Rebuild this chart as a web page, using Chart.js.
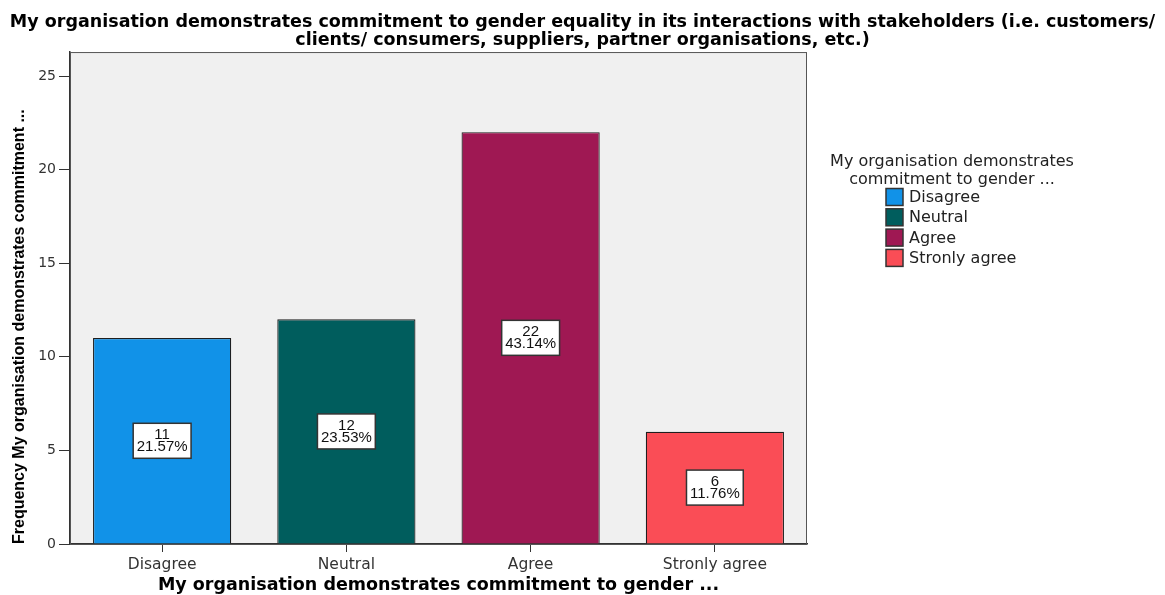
<!DOCTYPE html>
<html>
<head>
<meta charset="utf-8">
<script src="https://cdn.jsdelivr.net/npm/chart.js@4.4.0/dist/chart.umd.min.js"></script>
<style>
    html, body { margin: 0; padding: 0; background: #fff; }
    #wrap { width: 1165px; height: 595px; }
</style>
</head>
<body>
<div id="wrap"><canvas id="freqChart" width="1165" height="595"></canvas></div>
<script>
// Values
const categories = ['Disagree', 'Neutral', 'Agree', 'Stronly agree'];
const frequencies = [11, 12, 22, 6];
const percentLabels = ['21.57%', '23.53%', '43.14%', '11.76%'];
const barColors = ['#1192e8', '#005d5d', '#9f1853', '#fa4d56'];
const yTicks = [0, 5, 10, 15, 20, 25];

const chartTitle = [
    'My organisation demonstrates commitment to gender equality in its interactions with stakeholders (i.e. customers/',
    'clients/ consumers, suppliers, partner organisations, etc.)'
];
const xAxisTitle = 'My organisation demonstrates commitment to gender ...';
const yAxisTitle = 'Frequency My organisation demonstrates commitment ...';
const legendTitle = ['My organisation demonstrates', 'commitment to gender ...'];

const REG = '"DejaVu Sans", "Liberation Sans", Arial, sans-serif';
const ARIAL = '"Liberation Sans", Arial, sans-serif';

// grey plot panel behind the bars
const panelPlugin = {
    id: 'panel',
    beforeDraw(chart) {
        const { ctx, chartArea: a } = chart;
        ctx.save();
        ctx.fillStyle = '#ffffff';
        ctx.fillRect(0, 0, chart.width, chart.height);
        ctx.fillStyle = '#f0f0f0';
        ctx.fillRect(a.left, a.top, a.right - a.left, a.bottom - a.top);
        ctx.restore();
    },
    afterDraw(chart) {
        const { ctx, chartArea: a } = chart;
        ctx.save();
        ctx.strokeStyle = '#555';
        ctx.lineWidth = 1;
        ctx.strokeRect(a.left + 0.5, a.top + 0.5, a.right - a.left - 1, a.bottom - a.top);
        ctx.restore();
    }
};

// white boxes with count and percent in the middle of each bar
const barLabelPlugin = {
    id: 'barLabels',
    afterDatasetsDraw(chart) {
        const ctx = chart.ctx;
        const meta = chart.getDatasetMeta(0);
        ctx.save();
        ctx.font = '15px ' + ARIAL;
        ctx.textAlign = 'center';
        ctx.textBaseline = 'middle';
        meta.data.forEach((bar, i) => {
            const lines = [String(frequencies[i]), percentLabels[i]];
            const w = Math.max(...lines.map(t => ctx.measureText(t).width)) + 7;
            const h = 35;
            const cx = bar.x;
            const cy = (bar.y + bar.base) / 2;
            ctx.fillStyle = '#fff';
            ctx.fillRect(cx - w / 2, cy - h / 2, w, h);
            ctx.strokeStyle = '#333';
            ctx.lineWidth = 1.5;
            ctx.strokeRect(cx - w / 2, cy - h / 2, w, h);
            ctx.fillStyle = '#111';
            ctx.fillText(lines[0], cx, cy - 6);
            ctx.fillText(lines[1], cx, cy + 6);
        });
        ctx.restore();
    }
};

// legend on the right, like the SPSS one
const legendPlugin = {
    id: 'spssLegend',
    afterDraw(chart) {
        const ctx = chart.ctx;
        const ds = chart.data.datasets[0];
        ctx.save();
        ctx.font = '16px ' + REG;
        ctx.fillStyle = '#222';
        ctx.textAlign = 'center';
        ctx.textBaseline = 'middle';
        legendTitle.forEach((t, i) => ctx.fillText(t, 952, 162 + i * 18));
        ctx.textAlign = 'left';
        chart.data.labels.forEach((lab, i) => {
            const y = 197 + i * 20.3;
            ctx.fillStyle = ds.backgroundColor[i];
            ctx.fillRect(886, y - 8.5, 17, 17);
            ctx.strokeStyle = '#333';
            ctx.lineWidth = 1.5;
            ctx.strokeRect(886, y - 8.5, 17, 17);
            ctx.fillStyle = '#222';
            ctx.fillText(lab, 909, y + 1);
        });
        ctx.restore();
    }
};

const canvas = document.getElementById('freqChart');
new Chart(canvas, {
    type: 'bar',
    data: {
        labels: categories,
        datasets: [{
            label: 'Frequency',
            data: frequencies,
            yAxisID: 'y',
            backgroundColor: barColors,
            borderColor: '#1e1e1e',
            borderWidth: 1.2,
            barPercentage: 0.75,
            categoryPercentage: 1.0
        }]
    },
    options: {
        responsive: false,
        animation: false,
        plugins: {
            legend: { display: false },
            tooltip: { enabled: false },
            title: {
                display: true,
                text: chartTitle,
                color: '#000',
                font: { family: REG, size: 17.5, weight: 'bold', lineHeight: 1.03 },
                padding: { top: 13, bottom: 3 }
            }
        },
        scales: {
            x: {
                grid: { display: true, drawOnChartArea: false, drawTicks: true, tickLength: 8, color: '#333', offset: false },
                border: { display: true, color: '#333', width: 1.5 },
                ticks: { color: '#333', padding: 4, font: { family: REG, size: 15.5 } },
                title: {
                    display: true,
                    text: xAxisTitle,
                    color: '#000',
                    font: { family: REG, size: 17.5, weight: 'bold', lineHeight: 1.03 },
                    padding: { top: 0, bottom: 1 }
                },
                afterFit(s) { s.height = 51; }
            },
            y: {
                min: 0,
                max: 26.28,
                grid: { display: true, drawOnChartArea: false, drawTicks: true, tickLength: 11, color: '#333' },
                border: { display: true, color: '#333', width: 1.5 },
                ticks: { color: '#333', padding: 3, font: { family: REG, size: 14 } },
                afterBuildTicks(s) { s.ticks = yTicks.map(v => ({ value: v })); },
                title: {
                    display: true,
                    text: yAxisTitle,
                    align: 'start',
                    color: '#000',
                    font: { family: ARIAL, size: 16, weight: 'bold', lineHeight: 1.2 },
                    padding: { top: 10, bottom: 0 }
                },
                afterFit(s) { s.width = 70; }
            },
            // empty axis that just reserves room for the legend on the right
            legendRoom: {
                axis: 'y',
                position: 'right',
                min: 0,
                max: 1,
                grid: { display: false },
                border: { display: false },
                ticks: { display: false },
                afterFit(s) { s.width = 358; }
            }
        }
    },
    plugins: [panelPlugin, barLabelPlugin, legendPlugin]
});
</script>
</body>
</html>
